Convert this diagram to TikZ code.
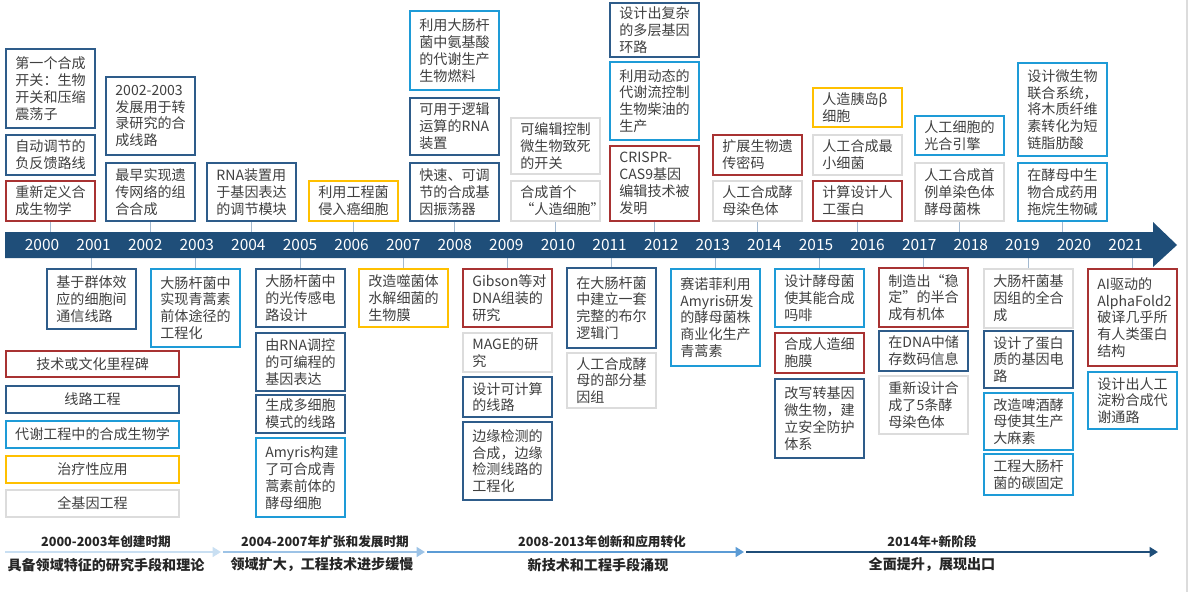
\documentclass[tikz,border=0pt]{standalone}
\usepackage{fontspec}
\setmainfont{Noto Sans CJK SC}
\usetikzlibrary{positioning,arrows.meta}

\definecolor{milered}{HTML}{A83232}
\definecolor{circblue}{HTML}{2E5C8A}
\definecolor{metablue}{HTML}{1E9BD7}
\definecolor{theryellow}{HTML}{FFC000}
\definecolor{genogray}{HTML}{DCDCDC}
\definecolor{barblue}{HTML}{1F4E79}
\definecolor{linkgray}{HTML}{A3B9D0}
\definecolor{textgray}{HTML}{404040}
\definecolor{segone}{HTML}{C9DFF2}
\definecolor{segtwo}{HTML}{9DC3E6}
\definecolor{segthree}{HTML}{5B9BD5}

\tikzset{
  evt/.style={draw, line width=1.5pt, fill=white, text=textgray,
    font=\fontsize{10}{12}\selectfont, align=left, text width=5em,
    inner xsep=0pt, inner ysep=0pt, minimum width=2.225cm, anchor=north west},
  hgt/.style={minimum height=#1*0.025cm},
  mile/.style={evt, draw=milered},
  circ/.style={evt, draw=circblue},
  meta/.style={evt, draw=metablue},
  ther/.style={evt, draw=theryellow},
  geno/.style={evt, draw=genogray},
  legend/.style={text width=, align=center, minimum width=4.325cm},
  link/.style={linkgray, line width=0.8pt},
  year/.style={text=white, font=\fontsize{11}{13}\selectfont},
  seg/.style={line width=2pt, -{Triangle[length=6pt,width=7pt]}},
  period/.style={text=black!85, font=\bfseries\fontsize{9}{11}\selectfont},
  motto/.style={text=black!85, font=\bfseries\fontsize{10}{12}\selectfont}
}

\begin{document}
\begin{tikzpicture}[x=0.025cm, y=-0.025cm]
  \useasboundingbox (0,0) rectangle (1194,592);
  % slide border on the right
  \draw[genogray, line width=1.2pt] (1187,0) -- (1187,592);

  % upper events, by even years
  \node[circ, hgt=79] (u00a) at (5,48) {第一个合成\\开关：生物\\开关和压缩\\震荡子};
  \node[circ, hgt=40] (u00b) at (5,134) {自动调节的\\负反馈路线};
  \node[mile, hgt=40] (u00c) at (5,180) {重新定义合\\成生物学};

  \node[circ, hgt=78] (u02a) at (105,76) {2002-2003\\发展用于转\\录研究的合\\成线路};
  \node[circ, hgt=58] (u02b) at (105,162) {最早实现遗\\传网络的组\\合合成};

  \node[circ, hgt=58] (u04a) at (206,162) {RNA装置用\\于基因表达\\的调节模块};

  \node[ther, hgt=40] (u06a) at (308,180) {利用工程菌\\侵入癌细胞};

  \node[meta, hgt=79] (u08a) at (409,10) {利用大肠杆\\菌中氨基酸\\的代谢生产\\生物燃料};
  \node[circ, hgt=57] (u08b) at (409,97) {可用于逻辑\\运算的RNA\\装置};
  \node[circ, hgt=58] (u08c) at (409,162) {快速、可调\\节的合成基\\因振荡器};

  \node[geno, hgt=56] (u10a) at (510,117) {可编辑控制\\微生物致死\\的开关};
  \node[geno, hgt=40] (u10b) at (510,180) {合成首个\\“人造细胞”};

  \node[circ, hgt=54] (u12a) at (609,2) {设计出复杂\\的多层基因\\环路};
  \node[meta, hgt=78] (u12b) at (609,61) {利用动态的\\代谢流控制\\生物柴油的\\生产};
  \node[mile, hgt=75] (u12c) at (609,145) {CRISPR-\\CAS9基因\\编辑技术被\\发明};

  \node[mile, hgt=40] (u14a) at (712,134) {扩展生物遗\\传密码};
  \node[geno, hgt=40] (u14b) at (712,180) {人工合成酵\\母染色体};

  \node[ther, hgt=39] (u16a) at (812,87) {人造胰岛β\\细胞};
  \node[geno, hgt=40] (u16b) at (812,134) {人工合成最\\小细菌};
  \node[mile, hgt=40] (u16c) at (812,180) {计算设计人\\工蛋白};

  \node[meta, hgt=39] (u18a) at (914,115) {人工细胞的\\光合引擎};
  \node[geno, hgt=58] (u18b) at (914,162) {人工合成首\\例单染色体\\酵母菌株};

  \node[meta, hgt=93] (u20a) at (1017,62) {设计微生物\\联合系统，\\将木质纤维\\素转化为短\\链脂肪酸};
  \node[meta, hgt=58] (u20b) at (1017,162) {在酵母中生\\物合成药用\\拖烷生物碱};

  % lower events, by odd years
  \node[circ, hgt=60] (l01a) at (46,268) {基于群体效\\应的细胞间\\通信线路};

  \node[meta, hgt=78] (l03a) at (150,268) {大肠杆菌中\\实现青蒿素\\前体途径的\\工程化};

  \node[circ, hgt=58] (l05a) at (255,268) {大肠杆菌中\\的光传感电\\路设计};
  \node[circ, hgt=58] (l05b) at (255,332) {由RNA调控\\的可编程的\\基因表达};
  \node[circ, hgt=38] (l05c) at (255,394) {生成多细胞\\模式的线路};
  \node[meta, hgt=79] (l05d) at (255,437) {Amyris构建\\了可合成青\\蒿素前体的\\酵母细胞};

  \node[ther, hgt=58] (l07a) at (358,268) {改造噬菌体\\水解细菌的\\生物膜};

  \node[mile, hgt=58] (l09a) at (462,268) {Gibson等对\\DNA组装的\\研究};
  \node[geno, hgt=39] (l09b) at (462,332) {MAGE的研\\究};
  \node[circ, hgt=40] (l09c) at (462,376) {设计可计算\\的线路};
  \node[circ, hgt=78] (l09d) at (462,421) {边缘检测的\\合成，边缘\\检测线路的\\工程化};

  \node[circ, hgt=80] (l11a) at (566,267) {在大肠杆菌\\中建立一套\\完整的布尔\\逻辑门};
  \node[geno, hgt=55] (l11b) at (566,352) {人工合成酵\\母的部分基\\因组};

  \node[meta, hgt=97] (l13a) at (670,268) {赛诺菲利用\\Amyris研发\\的酵母菌株\\商业化生产\\青蒿素};

  \node[meta, hgt=58] (l15a) at (774,268) {设计酵母菌\\使其能合成\\吗啡};
  \node[mile, hgt=40] (l15b) at (774,332) {合成人造细\\胞膜};
  \node[circ, hgt=79] (l15c) at (774,378) {改写转基因\\微生物，建\\立安全防护\\体系};

  \node[mile, hgt=59] (l17a) at (878,267) {制造出“稳\\定”的半合\\成有机体};
  \node[circ, hgt=40] (l17b) at (878,330) {在DNA中储\\存数码信息};
  \node[geno, hgt=58] (l17c) at (878,375) {重新设计合\\成了5条酵\\母染色体};

  \node[geno, hgt=59] (l19a) at (983,268) {大肠杆菌基\\因组的全合\\成};
  \node[circ, hgt=57] (l19b) at (983,330) {设计了蛋白\\质的基因电\\路};
  \node[meta, hgt=57] (l19c) at (983,392) {改造啤酒酵\\母使其生产\\大麻素};
  \node[meta, hgt=41] (l19d) at (983,453) {工程大肠杆\\菌的碳固定};

  \node[mile, hgt=97] (l21a) at (1087,268) {AI驱动的\\AlphaFold2\\破译几乎所\\有人类蛋白\\结构};
  \node[meta, hgt=57] (l21b) at (1087,371) {设计出人工\\淀粉合成代\\谢通路};

  % legend
  \node[mile, legend, hgt=26] (leg1) at (5,350) {技术或文化里程碑};
  \node[circ, legend, hgt=27] (leg2) at (5,385) {线路工程};
  \node[meta, legend, hgt=27] (leg3) at (5,420) {代谢工程中的合成生物学};
  \node[ther, legend, hgt=27] (leg4) at (5,455) {治疗性应用};
  \node[geno, legend, hgt=27] (leg5) at (5,489) {全基因工程};

  % connectors to the time bar
  \coordinate (bartop) at (0,232);
  \coordinate (barbot) at (0,258);
  \foreach \n in {u00c,u02b,u04a,u06a,u08c,u10b,u12c,u14b,u16c,u18b,u20b}
    \draw[link] (\n.south) -- (\n.south |- bartop);
  \foreach \n in {l01a,l03a,l05a,l07a,l09a,l11a,l13a,l15a,l17a,l19a,l21a}
    \draw[link] (\n.north) -- (\n.north |- barbot);

  % time bar
  \fill[barblue] (5,232) -- (1153,232) -- (1153,222) -- (1177,245)
    -- (1153,267) -- (1153,258) -- (5,258) -- cycle;
  \foreach \yr [count=\i from 0] in {2000,...,2021}
    \node[year] (y\yr) at ({42+51.6*\i},245) {\yr};

  % periods
  \coordinate (s1a) at (5,552);   \coordinate (s1b) at (221,552);
  \coordinate (s2a) at (223,552); \coordinate (s2b) at (425,552);
  \coordinate (s3a) at (427,552); \coordinate (s3b) at (744,552);
  \coordinate (s4a) at (746,552); \coordinate (s4b) at (1158,552);
  \draw[seg, segone] (s1a) -- (s1b);
  \draw[seg, segtwo] (s2a) -- (s2b);
  \draw[seg, segthree] (s3a) -- (s3b);
  \draw[seg, barblue] (s4a) -- (s4b);

  \node[period] (p1) at (106,542) {2000-2003年创建时期};
  \node[motto] (m1) at (106,565) {具备领域特征的研究手段和理论};
  \node[period] (p2) at (325,542) {2004-2007年扩张和发展时期};
  \node[motto] (m2) at (322,565) {领域扩大，工程技术进步缓慢};
  \node[period] (p3) at (602,542) {2008-2013年创新和应用转化};
  \node[motto] (m3) at (598,565) {新技术和工程手段涌现};
  \node[period] (p4) at (932,542) {2014年+新阶段};
  \node[motto] (m4) at (932,565) {全面提升，展现出口};
\end{tikzpicture}
\end{document}
